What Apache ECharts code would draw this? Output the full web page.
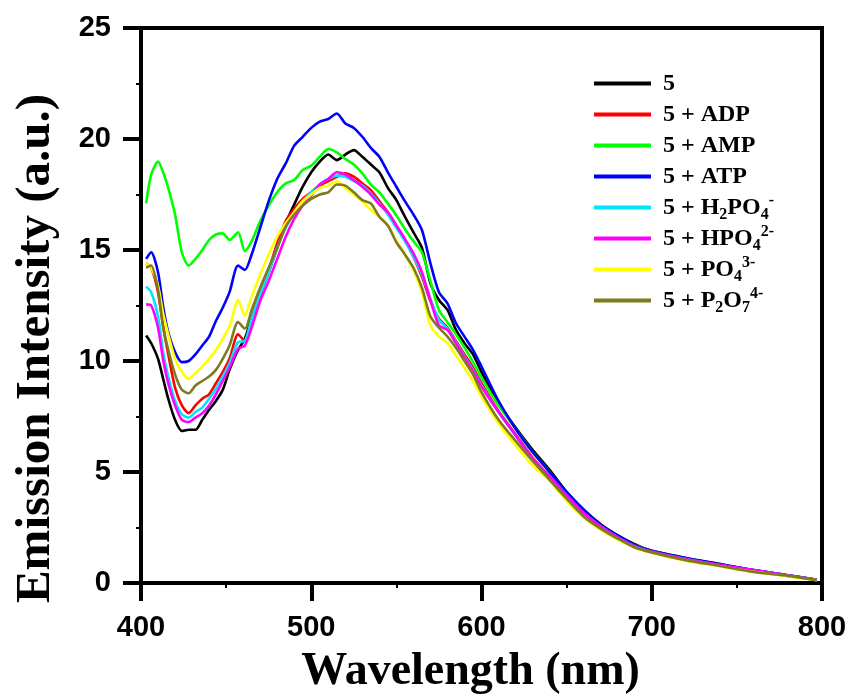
<!DOCTYPE html>
<html>
<head>
<meta charset="utf-8">
<script src="https://cdn.jsdelivr.net/npm/echarts@6/dist/echarts.min.js"></script>
<style>
html,body{margin:0;padding:0;background:#fff;}
#chart{width:851px;height:700px;}
</style>
</head>
<body>
<div id="chart"></div>
<script>
var wavelength = [403,406,410,413,416,420,424,428,432,436,440,444,448,452,457,461,465,470,475,480,485,490,495,500,505,510,515,520,525,530,535,540,545,550,555,560,565,570,575,580,585,590,595,600,610,620,630,640,650,660,670,680,690,700,720,740,760,780,797];

var seriesNames = ['5','5 + ADP','5 + AMP','5 + ATP','5 + H2PO4-','5 + HPO42-','5 + PO43-','5 + P2O74-'];
var legendLabels = ['5','5 + ADP','5 + AMP','5 + ATP','5 + H{sub|2}PO{sub|4}{sup|-}','5 + HPO{sub|4}{sup|2-}','5 + PO{sub|4}{sup|3-}','5 + P{sub|2}O{sub|7}{sup|4-}'];
var seriesColors = ['#000000','#ff0000','#00ff00','#0000ff','#00e5ff','#ff00ff','#ffff00','#807a1e'];

var s5 = [11.15,10.8,10.1,9.2,8.3,7.35,6.85,6.9,6.9,7.35,7.8,8.2,8.7,9.6,10.5,11.0,11.95,13.0,14.0,15.1,16.2,17.05,17.85,18.5,18.98,19.3,19.05,19.3,19.5,19.2,18.85,18.5,17.8,17.25,16.5,15.8,15.1,13.5,12.75,12.3,11.4,10.8,10.3,9.5,8.1,7.0,6.0,5.1,4.1,3.3,2.65,2.15,1.75,1.45,1.13,0.85,0.57,0.35,0.15];
var sADP = [14.4,14.2,13.1,11.55,10.3,8.8,8.0,7.65,8.0,8.3,8.5,9.0,9.5,10.1,11.2,10.9,11.9,13.0,14.1,15.3,16.3,16.85,17.3,17.6,17.9,18.1,18.3,18.45,18.3,18.0,17.7,17.2,16.7,16.1,15.45,14.7,13.8,12.7,11.9,11.5,10.9,10.3,9.7,9.0,7.75,6.7,5.65,4.8,3.95,3.15,2.55,2.05,1.65,1.4,1.08,0.8,0.55,0.33,0.14];
var sAMP = [17.1,18.4,18.98,18.5,17.8,16.6,14.9,14.3,14.6,15.0,15.45,15.7,15.75,15.45,15.8,14.95,15.4,16.3,17.0,17.6,18.0,18.15,18.6,18.8,19.2,19.55,19.4,19.1,18.85,18.45,17.95,17.6,17.1,16.55,15.95,15.4,14.9,13.6,12.3,11.75,11.2,10.6,9.95,9.25,8.0,6.95,5.9,5.0,4.0,3.2,2.55,2.05,1.7,1.45,1.1,0.82,0.55,0.33,0.14];
var sATP = [14.6,14.9,14.0,12.45,11.3,10.4,9.95,10.0,10.3,10.7,11.1,11.8,12.4,13.1,14.3,14.1,14.8,16.0,17.2,18.2,18.9,19.7,20.1,20.5,20.78,20.9,21.15,20.7,20.5,20.1,19.6,19.2,18.5,17.85,17.2,16.6,15.9,14.4,13.1,12.6,11.7,11.1,10.5,9.75,8.2,6.95,5.9,5.0,4.1,3.3,2.6,2.15,1.7,1.45,1.12,0.85,0.58,0.35,0.15];
var sH2PO4 = [13.35,13.1,12.0,10.4,9.3,8.2,7.6,7.45,7.7,7.9,8.3,8.75,9.3,9.9,10.85,10.9,11.9,13.0,14.0,15.1,16.0,16.7,17.2,17.6,17.95,18.2,18.35,18.3,18.1,17.9,17.55,17.1,16.6,16.0,15.4,14.7,13.9,12.8,11.85,11.45,10.85,10.2,9.6,8.9,7.7,6.65,5.6,4.8,3.95,3.15,2.55,2.05,1.65,1.4,1.08,0.8,0.56,0.34,0.14];
var sHPO4 = [12.55,12.5,11.5,10.05,9.0,8.0,7.35,7.25,7.45,7.65,8.0,8.5,9.1,9.7,10.55,10.7,11.5,12.7,13.6,14.6,15.6,16.4,17.0,17.45,17.95,18.2,18.5,18.4,18.15,17.85,17.5,17.05,16.7,16.1,15.5,14.85,14.0,12.75,11.6,11.4,10.8,10.15,9.55,8.85,7.7,6.65,5.6,4.8,3.95,3.15,2.55,2.05,1.65,1.42,1.08,0.82,0.58,0.34,0.14];
var sPO4 = [14.4,14.2,13.4,12.15,11.2,10.1,9.5,9.2,9.45,9.75,10.1,10.5,11.0,11.55,12.75,12.05,12.9,13.9,14.8,15.6,16.2,16.7,17.2,17.5,17.8,17.9,18.1,17.8,17.5,17.2,16.8,16.5,16.1,15.4,14.8,14.1,13.1,11.6,11.1,10.8,10.25,9.7,9.1,8.4,7.2,6.2,5.3,4.6,3.7,2.95,2.4,1.95,1.6,1.35,1.0,0.75,0.5,0.3,0.12];
var sP2O7 = [14.2,14.3,13.2,11.55,10.5,9.4,8.7,8.55,8.9,9.1,9.3,9.6,10.1,10.7,11.75,11.45,12.3,13.3,14.2,15.1,16.05,16.6,17.0,17.3,17.5,17.6,17.95,17.9,17.6,17.25,17.1,16.5,16.1,15.35,14.8,14.2,13.3,12.0,11.5,11.1,10.6,10.0,9.4,8.6,7.35,6.4,5.5,4.65,3.8,3.0,2.45,2.0,1.6,1.38,1.03,0.77,0.5,0.32,0.13];

var xTicks = [400, 500, 600, 700, 800];
var yTicks = [0, 5, 10, 15, 20, 25];

var allValues = [s5, sADP, sAMP, sATP, sH2PO4, sHPO4, sPO4, sP2O7];

var chart = echarts.init(document.getElementById('chart'), null, {renderer: 'canvas'});

var series = allValues.map(function (vals, i) {
  return {
    name: seriesNames[i],
    type: 'line',
    showSymbol: false,
    symbol: 'none',
    smooth: 0.25,
    data: wavelength.map(function (w, j) { return [w, vals[j]]; }),
    lineStyle: {color: seriesColors[i], width: 2.6},
    itemStyle: {color: seriesColors[i]},
    emphasis: {disabled: true}
  };
});

var labelMap = {};
seriesNames.forEach(function (n, i) { labelMap[n] = legendLabels[i]; });

var serif = "'Liberation Serif', 'Times New Roman', serif";
var sans = "'Liberation Sans', Arial, sans-serif";

chart.setOption({
  animation: false,
  backgroundColor: '#ffffff',
  grid: {
    left: 141, right: 29, top: 28, bottom: 117,
    show: true, borderColor: '#000', borderWidth: 4,
    outerBoundsMode: 'none', containLabel: false
  },
  legend: {
    orient: 'vertical',
    left: 589, top: 63,
    itemWidth: 57, itemHeight: 4, itemGap: 0,
    icon: 'rect',
    data: seriesNames,
    selectedMode: false,
    formatter: function (name) { return labelMap[name]; },
    textStyle: {
      fontFamily: serif, fontWeight: 'bold', fontSize: 24, color: '#000',
      lineHeight: 31, padding: [0, 0, 0, 7],
      rich: {
        sub: {fontFamily: serif, fontWeight: 'bold', fontSize: 16, lineHeight: 16, color: '#000', padding: [14, 0, 0, 0]},
        sup: {fontFamily: serif, fontWeight: 'bold', fontSize: 16, lineHeight: 16, color: '#000', padding: [0, 0, 14, 0]}
      }
    }
  },
  xAxis: {
    type: 'value',
    min: xTicks[0], max: xTicks[xTicks.length - 1], interval: 100,
    name: 'Wavelength (nm)',
    nameLocation: 'middle',
    nameGap: 66,
    nameTextStyle: {fontFamily: serif, fontWeight: 'bold', fontSize: 46, color: '#000', padding: [0, 22, 0, 0]},
    axisLine: {show: true, onZero: false, lineStyle: {color: '#000', width: 4}},
    axisTick: {show: true, inside: false, length: 18, lineStyle: {color: '#000', width: 4}},
    minorTick: {show: true, splitNumber: 2, length: 5, lineStyle: {color: '#000', width: 2}},
    axisLabel: {margin: 30, fontFamily: sans, fontWeight: 'bold', fontSize: 29, color: '#000'},
    splitLine: {show: false}
  },
  yAxis: {
    type: 'value',
    min: yTicks[0], max: yTicks[yTicks.length - 1], interval: 5,
    name: 'Emission Intensity (a.u.)',
    nameLocation: 'middle',
    nameGap: 80,
    nameRotate: 90,
    nameTextStyle: {fontFamily: serif, fontWeight: 'bold', fontSize: 49, color: '#000', padding: [0, 86, 0, 0]},
    axisLine: {show: true, onZero: false, lineStyle: {color: '#000', width: 4}},
    axisTick: {show: true, inside: false, length: 18, lineStyle: {color: '#000', width: 4}},
    minorTick: {show: true, splitNumber: 2, length: 5, lineStyle: {color: '#000', width: 2}},
    axisLabel: {margin: 30, fontFamily: sans, fontWeight: 'bold', fontSize: 29, color: '#000'},
    splitLine: {show: false}
  },
  series: series
});
</script>
</body>
</html>
